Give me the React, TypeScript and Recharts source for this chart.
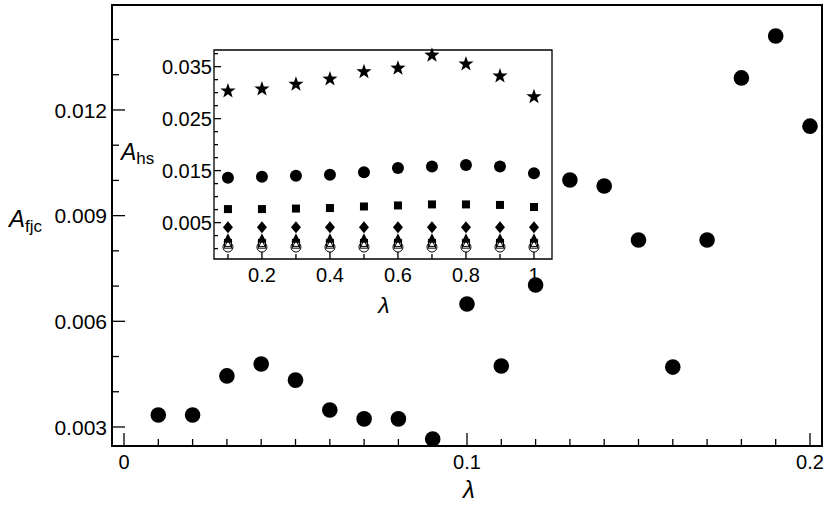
import React from 'react';
import { ScatterChart, Scatter, XAxis, YAxis, ReferenceArea, Label } from 'recharts';

// main panel: A_fjc vs lambda
const mainLambda = [0.01, 0.02, 0.03, 0.04, 0.05, 0.06, 0.07, 0.08, 0.09, 0.1, 0.11, 0.12, 0.13, 0.14, 0.15, 0.16, 0.17, 0.18, 0.19, 0.2];
const mainAfjc = [0.00334, 0.00334, 0.00445, 0.00479, 0.00433, 0.00348, 0.00323, 0.00323, 0.00266, 0.00649, 0.00473, 0.00703, 0.01001, 0.00984, 0.00831, 0.0047, 0.00831, 0.01291, 0.0141, 0.01154];

const mainXMajor = [0, 0.1, 0.2];
const mainYMajor = [0.003, 0.006, 0.009, 0.012];

// inset: A_hs vs lambda, one series per marker
const insetLambda = [0.1, 0.2, 0.3, 0.4, 0.5, 0.6, 0.7, 0.8, 0.9, 1.0];
const insetStar = [0.0303, 0.0307, 0.0316, 0.0326, 0.034, 0.0347, 0.0372, 0.0355, 0.0332, 0.0292];
const insetCircle = [0.01365, 0.0138, 0.014, 0.0142, 0.0147, 0.0155, 0.0158, 0.0161, 0.0158, 0.0145];
const insetSquare = [0.0076, 0.0076, 0.0077, 0.0078, 0.0081, 0.0083, 0.0085, 0.0085, 0.0084, 0.008];
const insetDiamond = [0.0041, 0.0041, 0.0041, 0.0041, 0.0041, 0.0041, 0.0041, 0.0041, 0.0041, 0.0041];
const insetTriangle = [0.0019, 0.0019, 0.0019, 0.0019, 0.0019, 0.0019, 0.0019, 0.0019, 0.0019, 0.0019];
const insetOpenSquare = [0.0011, 0.0011, 0.0011, 0.0011, 0.0011, 0.0011, 0.0011, 0.0011, 0.0011, 0.0011];
const insetOpenTriangle = [0.0007, 0.0007, 0.0007, 0.0007, 0.0007, 0.0007, 0.0007, 0.0007, 0.0007, 0.0007];
const insetOpenCircle = [0.0003, 0.0003, 0.0003, 0.0003, 0.0003, 0.0003, 0.0003, 0.0003, 0.0003, 0.0003];

const insetXMajor = [0.2, 0.4, 0.6, 0.8, 1];
const insetYMajor = [0.005, 0.015, 0.025, 0.035];

const FONT = '"Liberation Sans", Arial, sans-serif';

const steps = (from: number, to: number, step: number) => {
    const out: number[] = [];
    for (let v = from; v <= to + step / 2; v += step) out.push(Math.round(v * 1e6) / 1e6);
    return out;
};

const zip = (xs: number[], ys: number[]) => xs.map((x, i) => ({ x, y: ys[i] }));

const isIn = (list: number[], v: number) => list.some((m) => Math.abs(m - v) < 1e-9);

// inward ticks drawn by hand, labels only on the major ones
const xTick = (major: number[], majLen: number, minLen: number, fontSize: number, gap: number) => (p: any) => {
    const major_ = isIn(major, p.payload.value);
    const len = major_ ? majLen : minLen;
    return (
        <g>
            <line x1={p.x} x2={p.x} y1={p.y} y2={p.y - len} stroke="#000" strokeWidth={1.3} />
            {major_ && (
                <text x={p.x} y={p.y + gap + fontSize * 0.72} textAnchor="middle" fontSize={fontSize} fontFamily={FONT} fill="#000">
                    {String(p.payload.value)}
                </text>
            )}
        </g>
    );
};

const yTick = (major: number[], majLen: number, minLen: number, fontSize: number, gap: number) => (p: any) => {
    const major_ = isIn(major, p.payload.value);
    const len = major_ ? majLen : minLen;
    return (
        <g>
            <line x1={p.x} x2={p.x + len} y1={p.y} y2={p.y} stroke="#000" strokeWidth={1.3} />
            {major_ && (
                <text x={p.x - gap} y={p.y + fontSize * 0.36} textAnchor="end" fontSize={fontSize} fontFamily={FONT} fill="#000">
                    {String(p.payload.value)}
                </text>
            )}
        </g>
    );
};

const dot = (r: number) => (p: any) => <circle cx={p.cx} cy={p.cy} r={r} fill="#000" />;
const square = (s: number, filled: boolean) => (p: any) => (
    <rect x={p.cx - s / 2} y={p.cy - s / 2} width={s} height={s} fill={filled ? '#000' : 'none'} stroke="#000" strokeWidth={filled ? 0 : 1} />
);
const diamond = (w: number, h: number) => (p: any) => (
    <path d={`M${p.cx},${p.cy - h / 2}L${p.cx + w / 2},${p.cy}L${p.cx},${p.cy + h / 2}L${p.cx - w / 2},${p.cy}Z`} fill="#000" />
);
const triangle = (s: number, filled: boolean) => (p: any) => (
    <path
        d={`M${p.cx},${p.cy - s * 0.6}L${p.cx + s / 2},${p.cy + s * 0.4}L${p.cx - s / 2},${p.cy + s * 0.4}Z`}
        fill={filled ? '#000' : 'none'}
        stroke="#000"
        strokeWidth={filled ? 0 : 1}
    />
);
const ring = (r: number) => (p: any) => <circle cx={p.cx} cy={p.cy} r={r} fill="none" stroke="#000" strokeWidth={1} />;
const star = (R: number, r: number) => (p: any) => {
    const pts: string[] = [];
    for (let i = 0; i < 10; i++) {
        const a = -Math.PI / 2 + (i * Math.PI) / 5;
        const rad = i % 2 === 0 ? R : r;
        pts.push(`${p.cx + rad * Math.cos(a)},${p.cy + rad * Math.sin(a)}`);
    }
    return <polygon points={pts.join(' ')} fill="#000" />;
};

const MAIN_X: [number, number] = [-0.0035, 0.2035];
const MAIN_Y: [number, number] = [0.00246, 0.01498];
const INSET_X: [number, number] = [0.059, 1.053];
const INSET_Y: [number, number] = [-0.002, 0.0382];

export default function App() {
    const mainData = zip(mainLambda, mainAfjc);
    return (
        <div style={{ position: 'absolute', left: 0, top: 0, width: 830, height: 511, background: '#fff' }}>
            <ScatterChart width={830} height={511} margin={{ top: 5, right: 8, bottom: 5, left: 12 }}>
                <XAxis
                    type="number"
                    dataKey="x"
                    domain={MAIN_X}
                    ticks={steps(0, 0.2, 0.01)}
                    interval={0}
                    height={60}
                    axisLine={false}
                    tickLine={false}
                    tickSize={0}
                    tickMargin={0}
                    tick={xTick(mainXMajor, 13, 7, 20, 9)}
                >
                    <Label
                        content={() => (
                            <text x={469} y={498} textAnchor="middle" fontSize={24} fontStyle="italic" fontFamily={FONT} fill="#000">
                                λ
                            </text>
                        )}
                    />
                </XAxis>
                <YAxis
                    type="number"
                    dataKey="y"
                    domain={MAIN_Y}
                    ticks={steps(0.003, 0.014, 0.001)}
                    interval={0}
                    width={100}
                    axisLine={false}
                    tickLine={false}
                    tickSize={0}
                    tickMargin={0}
                    tick={yTick(mainYMajor, 13, 7, 21, 5)}
                >
                    <Label
                        content={() => (
                            <text x={9} y={227} fontFamily={FONT} fill="#000">
                                <tspan fontSize={24} fontStyle="italic">A</tspan>
                                <tspan fontSize={17} dy={5}>fjc</tspan>
                            </text>
                        )}
                    />
                </YAxis>
                <ReferenceArea x1={MAIN_X[0]} x2={MAIN_X[1]} y1={MAIN_Y[0]} y2={MAIN_Y[1]} fill="none" stroke="#000" strokeWidth={2} />
                <Scatter data={mainData} shape={dot(7.8)} isAnimationActive={false} />
            </ScatterChart>

            <div style={{ position: 'absolute', left: 100, top: 40 }}>
                <ScatterChart width={470} height={280} margin={{ top: 10, right: 18, bottom: 6, left: 4 }}>
                    <XAxis
                        type="number"
                        dataKey="x"
                        domain={INSET_X}
                        ticks={steps(0.1, 1, 0.1)}
                        interval={0}
                        height={55}
                        axisLine={false}
                        tickLine={false}
                        tickSize={0}
                        tickMargin={0}
                        tick={xTick(insetXMajor, 7, 5, 20, 9)}
                    >
                        <Label
                            content={() => (
                                <text x={284} y={273} textAnchor="middle" fontSize={23} fontStyle="italic" fontFamily={FONT} fill="#000">
                                    λ
                                </text>
                            )}
                        />
                    </XAxis>
                    <YAxis
                        type="number"
                        dataKey="y"
                        domain={INSET_Y}
                        ticks={steps(0, 0.0375, 0.0025)}
                        interval={0}
                        width={110}
                        axisLine={false}
                        tickLine={false}
                        tickSize={0}
                        tickMargin={0}
                        tick={yTick(insetYMajor, 7, 4, 20, 2)}
                    >
                        <Label
                            content={() => (
                                <text x={21} y={120} fontFamily={FONT} fill="#000">
                                    <tspan fontSize={23} fontStyle="italic">A</tspan>
                                    <tspan fontSize={17} dy={4}>hs</tspan>
                                </text>
                            )}
                        />
                    </YAxis>
                    <ReferenceArea x1={INSET_X[0]} x2={INSET_X[1]} y1={INSET_Y[0]} y2={INSET_Y[1]} fill="#fff" fillOpacity={0} stroke="#000" strokeWidth={1.3} />
                    <Scatter data={zip(insetLambda, insetOpenCircle)} shape={ring(5)} isAnimationActive={false} />
                    <Scatter data={zip(insetLambda, insetOpenTriangle)} shape={triangle(8, false)} isAnimationActive={false} />
                    <Scatter data={zip(insetLambda, insetOpenSquare)} shape={square(7, false)} isAnimationActive={false} />
                    <Scatter data={zip(insetLambda, insetTriangle)} shape={triangle(9, true)} isAnimationActive={false} />
                    <Scatter data={zip(insetLambda, insetDiamond)} shape={diamond(10, 12)} isAnimationActive={false} />
                    <Scatter data={zip(insetLambda, insetSquare)} shape={square(8, true)} isAnimationActive={false} />
                    <Scatter data={zip(insetLambda, insetCircle)} shape={dot(6)} isAnimationActive={false} />
                    <Scatter data={zip(insetLambda, insetStar)} shape={star(8, 3.2)} isAnimationActive={false} />
                </ScatterChart>
            </div>
        </div>
    );
}
